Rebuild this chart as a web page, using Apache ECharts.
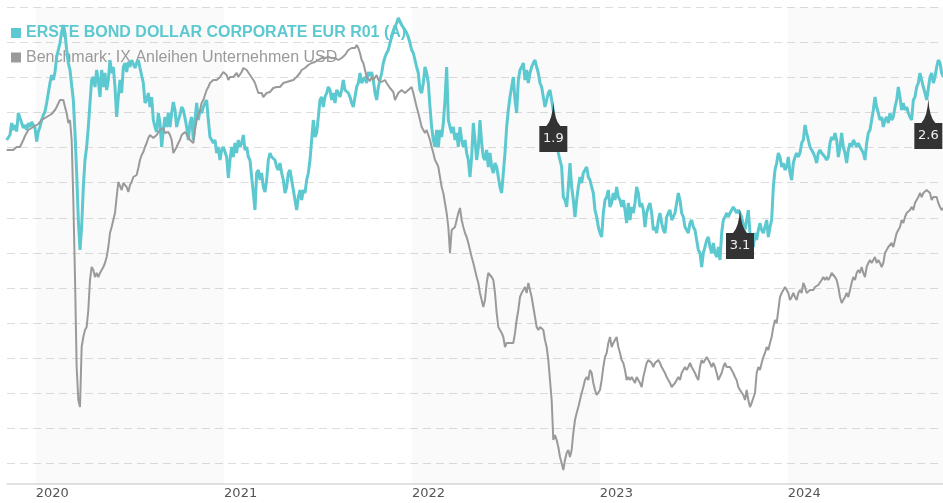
<!DOCTYPE html>
<html><head><meta charset="utf-8">
<script src="https://cdn.jsdelivr.net/npm/echarts@6/dist/echarts.min.js"></script>
<style>html,body{margin:0;padding:0;background:#fff}#c{width:943px;height:503px}</style>
</head><body><div id="c"></div>
<script>
const fundName = 'ERSTE BOND DOLLAR CORPORATE EUR R01 (A)';
const benchName = 'Benchmark: IX Anleihen Unternehmen USD';
const DAY = 864e5;
const firstDate = Date.UTC(2019, 10, 5, 14);
const stepDays = 3.238;
const axisStart = Date.UTC(2019, 10, 6, 6);
const axisEnd = Date.UTC(2024, 9, 28, 17);

const fund = [
102.0,102.4,103.0,105.4,104.0,105.0,103.7,107.4,106.4,105.4,
104.4,105.0,104.0,105.4,104.6,105.6,105.0,104.4,101.7,103.7,
104.6,106.0,107.0,107.7,109.4,111.4,113.4,115.0,114.0,115.6,
118.6,120.0,121.4,123.6,125.0,123.4,120.0,117.4,116.0,115.6,
110.0,103.4,95.4,86.0,80.0,84.6,92.6,98.0,100.6,104.6,
109.4,114.0,114.6,112.6,116.0,114.0,110.6,116.0,112.6,115.4,
112.0,114.0,118.0,115.4,116.6,112.6,106.6,110.6,114.0,111.4,
116.6,117.4,115.6,117.6,116.6,118.0,118.4,116.4,117.4,118.0,
116.4,116.6,113.4,109.4,110.0,111.4,108.6,110.6,106.0,104.6,
103.6,107.4,105.4,100.6,104.0,106.6,104.6,107.4,104.6,107.4,
109.6,108.0,104.6,106.0,107.0,108.6,108.0,106.4,104.6,102.0,
105.4,106.6,102.0,106.0,109.4,106.0,108.0,107.4,108.6,109.4,
110.0,106.0,102.6,102.0,101.4,102.0,99.4,100.6,98.0,100.0,
100.6,100.6,98.6,94.4,98.0,100.6,98.6,101.4,99.4,102.0,
100.6,101.4,103.0,100.0,100.6,98.6,98.0,94.6,91.4,88.0,
95.4,96.0,94.0,95.4,92.6,91.6,94.0,98.0,99.4,98.6,
99.0,98.0,96.6,96.0,97.4,95.4,94.0,91.4,92.6,95.4,
96.0,94.0,92.0,90.0,88.0,90.6,92.0,90.0,92.0,91.4,
94.0,95.4,98.0,102.0,106.0,102.6,103.4,106.6,110.0,110.6,
108.6,110.6,111.4,112.6,112.0,110.0,111.4,109.4,112.0,111.4,
110.6,112.0,114.0,112.0,111.6,111.4,110.6,109.4,108.6,110.6,
112.6,113.4,115.4,113.4,114.0,114.6,113.4,115.6,114.8,115.6,
114.0,111.4,110.0,112.6,114.0,115.4,117.4,118.6,119.4,120.0,
121.4,122.6,122.6,124.6,125.4,126.4,126.6,125.0,125.4,124.0,
123.4,122.6,121.4,120.0,119.4,118.0,116.6,115.4,112.0,111.4,
113.4,116.6,115.4,113.4,108.6,104.6,102.0,100.6,104.0,100.6,
104.0,102.6,105.4,110.0,116.6,106.0,104.6,103.4,104.6,102.0,
103.4,100.6,104.6,102.0,100.6,102.0,99.4,98.0,94.6,98.6,
105.4,102.0,98.0,100.6,106.0,101.4,98.6,98.0,100.0,96.6,
99.4,96.6,95.4,97.4,96.6,94.6,92.6,91.4,95.4,99.4,
104.6,108.0,110.6,112.6,114.6,110.0,107.4,114.0,116.0,116.6,
117.4,114.0,116.0,113.4,115.4,116.6,117.4,118.0,116.6,115.4,
113.4,112.6,110.6,108.6,110.0,111.4,112.0,110.0,109.6,105.6,
102.0,99.4,98.0,96.6,90.6,90.0,88.6,92.6,97.4,92.6,
90.0,86.6,90.0,92.6,94.6,93.4,95.4,96.0,96.6,94.6,
94.0,92.6,91.4,88.0,86.6,84.6,83.4,82.6,87.4,90.0,
90.6,92.0,88.6,89.4,91.4,90.0,92.6,90.6,90.0,88.6,
90.0,88.0,85.4,89.4,86.0,88.6,87.4,89.4,92.6,91.4,
88.6,89.4,88.0,84.6,87.4,88.6,89.4,87.4,84.0,84.6,
83.4,86.0,87.4,85.4,84.0,83.4,86.6,87.4,88.0,86.0,
86.6,87.4,89.4,91.4,90.0,87.4,86.6,84.6,84.6,83.4,
85.4,86.0,84.6,84.0,82.0,80.0,79.4,76.6,79.4,80.6,
82.0,82.6,80.6,79.4,81.4,79.4,78.6,80.6,78.0,83.4,
86.0,86.6,87.4,86.6,87.4,88.0,88.6,88.0,87.4,88.0,
88.2,86.6,85.0,84.0,86.0,88.0,83.4,82.0,80.6,83.4,
82.0,84.0,85.4,84.0,83.4,84.6,86.0,82.6,84.6,86.0,
92.6,96.0,97.4,99.4,98.6,96.6,97.4,96.0,96.6,98.6,
95.4,94.0,97.4,98.6,99.4,98.6,99.4,101.4,102.0,105.0,
103.4,102.0,100.6,100.0,99.4,98.6,97.4,99.4,100.0,99.4,
99.6,98.6,98.0,98.6,101.4,102.6,102.0,103.4,102.0,98.6,
100.6,103.4,100.6,99.4,97.4,100.0,101.4,100.6,102.0,101.4,
100.6,101.4,100.6,100.0,99.4,98.0,101.4,103.4,104.0,106.0,
108.0,110.6,108.6,107.4,106.0,106.6,104.6,106.0,106.6,105.4,
107.4,106.0,106.6,108.6,110.0,112.6,110.6,108.0,109.4,108.0,
108.6,107.4,106.6,106.0,110.0,110.6,112.6,113.4,115.4,114.0,
112.6,111.4,110.0,110.2,114.6,115.4,113.4,114.6,116.6,118.0,
117.4,115.4,114.6
];

const bench = [
100.0,99.6,100.0,100.0,100.0,100.2,100.6,100.6,100.6,100.4,
102.0,102.8,103.4,104.0,104.4,104.4,104.6,104.8,105.0,105.2,
105.6,106.0,106.4,106.4,106.6,106.8,107.0,107.2,107.4,108.0,
108.6,109.0,110.0,110.4,110.0,108.6,107.4,105.4,106.0,102.0,
90.0,74.6,56.6,50.0,48.6,60.6,62.6,64.0,64.6,68.0,
74.0,76.6,76.0,74.6,75.4,74.6,75.4,75.0,76.6,77.4,
78.6,80.6,83.4,84.6,86.0,87.4,90.6,93.6,93.4,92.0,
93.4,93.6,92.6,91.6,93.0,93.6,94.6,95.0,95.0,96.4,
98.0,99.0,99.6,100.6,101.4,102.4,103.0,103.4,102.4,102.6,
103.0,103.4,104.0,103.6,104.4,103.4,103.6,103.6,103.0,102.0,
99.4,100.0,100.6,101.4,102.0,103.0,103.4,103.6,103.4,102.6,
102.0,102.4,101.4,104.0,106.0,107.0,108.0,109.4,110.0,111.0,
112.0,112.6,113.4,113.6,114.0,113.6,114.0,114.4,114.6,115.0,
115.6,115.4,115.0,114.0,114.6,115.0,114.6,115.0,115.4,114.6,
115.0,115.6,116.4,116.6,116.0,115.6,115.0,114.6,114.0,113.4,
112.4,111.4,111.0,111.4,110.6,110.4,111.4,111.0,111.6,112.0,
112.4,112.2,112.6,112.8,112.6,113.0,113.4,113.4,113.6,113.4,
113.8,113.6,114.0,114.4,114.6,115.0,115.4,116.0,116.0,116.4,
116.6,117.0,117.4,117.4,117.6,117.6,118.0,118.0,118.2,118.4,
118.2,118.4,118.6,118.6,118.4,118.4,118.6,118.4,118.2,118.0,
118.0,118.4,118.6,119.0,119.4,120.0,120.0,120.4,120.6,120.4,
121.0,120.4,119.4,118.0,117.4,116.0,114.6,114.4,113.8,114.6,
114.0,114.4,115.0,114.0,114.4,113.6,113.4,114.0,113.4,113.0,
112.4,112.6,111.6,110.0,110.4,111.4,111.6,112.0,111.6,111.4,
111.6,112.0,112.4,112.6,111.4,110.0,108.6,107.4,106.0,104.6,
104.4,103.4,104.0,103.0,102.0,100.6,99.4,98.0,97.4,96.6,
94.6,92.6,91.4,89.4,87.4,84.6,79.4,84.0,84.0,84.6,
86.0,87.4,88.4,86.0,84.6,83.4,82.6,81.4,80.0,78.6,
77.4,76.0,74.6,73.4,71.4,70.0,68.6,70.0,73.4,75.4,
75.4,74.6,74.0,71.4,67.4,64.6,64.0,63.4,62.6,60.6,
61.4,61.6,61.4,61.0,61.4,63.4,66.0,68.0,70.6,71.4,
72.0,72.6,71.4,73.4,72.0,70.6,68.6,66.6,64.6,64.0,
64.6,65.0,64.0,62.0,60.6,58.0,54.0,50.0,42.0,43.0,
42.0,40.6,38.6,37.4,36.0,38.0,39.4,40.0,38.6,40.0,
43.4,46.0,47.4,48.6,50.0,51.4,52.6,54.0,54.6,54.0,
56.0,55.4,53.4,52.0,51.0,51.4,52.0,54.0,56.6,58.6,
59.4,61.4,62.6,60.6,61.4,62.0,62.6,60.6,59.4,58.0,
57.4,56.0,54.0,54.6,54.0,54.6,54.0,53.4,54.6,54.0,
53.4,52.6,54.6,56.0,57.4,58.0,58.4,57.4,56.6,57.4,
57.0,58.0,57.4,56.6,56.0,55.4,54.6,54.0,53.4,52.6,
52.4,53.4,54.0,54.6,54.0,55.4,56.0,56.6,56.0,56.6,
57.4,56.6,56.0,55.4,54.6,54.0,56.6,58.0,57.4,58.0,
58.6,58.0,57.4,56.6,57.4,56.6,55.4,54.0,54.0,55.4,
56.6,57.4,56.6,57.0,56.6,56.0,55.4,54.6,54.0,52.6,
52.0,52.0,51.0,50.0,52.0,50.0,48.6,49.4,49.4,51.4,
55.4,56.6,56.0,57.4,58.6,59.4,60.6,60.0,61.4,62.6,
64.6,66.0,65.4,68.0,70.6,71.4,72.0,72.6,72.0,71.4,
70.0,70.6,71.4,70.6,70.0,71.4,72.0,71.4,73.4,72.6,
71.4,71.4,72.0,71.6,72.0,72.6,72.6,73.0,73.4,74.0,
74.6,74.0,74.6,74.0,74.6,75.4,75.6,74.6,74.0,72.6,
70.6,69.4,70.0,70.6,71.4,70.6,72.0,73.4,74.6,74.0,
75.4,76.0,75.4,76.6,75.4,74.6,76.6,77.4,78.0,77.4,
78.0,78.6,77.4,78.0,77.4,76.6,77.4,79.4,80.0,80.6,
80.6,81.4,80.6,82.0,83.4,84.0,84.6,86.0,85.4,86.6,
87.4,87.4,88.0,88.6,88.0,89.4,90.0,90.6,91.4,90.6,
91.4,91.6,92.0,92.4,91.4,90.0,90.6,90.4,90.6,89.4,
88.6,88.0,88.4
];

const distIndex = [328, 440, 553];
const distLabels = ['1.9', '3.1', '2.6'];
const shadedRanges = [
  [Date.UTC(2020, 0, 1), Date.UTC(2021, 0, 1)],
  [Date.UTC(2022, 0, 1), Date.UTC(2023, 0, 1)],
  [Date.UTC(2024, 0, 1), axisEnd]
];

const dates = fund.map((_, i) => firstDate + i * stepDays * DAY);
const fundData = fund.map((v, i) => [dates[i], v]);
const benchData = bench.map((v, i) => [dates[i], v]);

const TEAL = '#5cc8cf';
const GREY = '#9a9a9a';

const chart = echarts.init(document.getElementById('c'), null, {renderer: 'canvas'});
chart.setOption({
  animation: false,
  useUTC: true,
  backgroundColor: '#ffffff',
  textStyle: {fontFamily: '"Liberation Sans", Arial, sans-serif'},
  grid: {left: 7, right: 0, top: 7, bottom: 19, containLabel: false},
  legend: {
    orient: 'vertical', left: 6, top: 20, itemGap: 8.5, padding: [5, 5, 5, 5],
    icon: 'rect', itemWidth: 10, itemHeight: 10, selectedMode: false, z: 2,
    data: [
      {name: fundName, itemStyle: {color: TEAL}, textStyle: {color: TEAL, fontWeight: 'bold', fontSize: 16}},
      {name: benchName, itemStyle: {color: GREY}, textStyle: {color: GREY, fontSize: 16}}
    ]
  },
  xAxis: {
    type: 'time', min: axisStart, max: axisEnd, splitNumber: 5, minInterval: 360 * DAY,
    axisLine: {show: true, onZero: false, lineStyle: {color: '#d8d8d8', width: 1.5}},
    axisTick: {show: false},
    splitLine: {show: false},
    axisLabel: {
      color: '#555', fontSize: 13, fontFamily: '"DejaVu Sans", Verdana, sans-serif', align: 'left', margin: 3,
      formatter: (v) => { const d = new Date(v); return (d.getUTCMonth() === 0 && d.getUTCDate() === 1) ? String(d.getUTCFullYear()) : ''; }
    }
  },
  yAxis: [
    {type: 'value', min: 33.2, max: 128.6, axisLine: {show: false}, axisTick: {show: false}, axisLabel: {show: false}, splitLine: {show: false}},
    {type: 'value', inverse: true, min: 0, max: 13.58, splitNumber: 14,
     axisLine: {show: false, onZero: false}, axisTick: {show: false}, axisLabel: {show: false},
     splitLine: {show: true, showMaxLine: false, lineStyle: {color: '#dddddd', type: [8, 5], width: 1}}}
  ],
  series: [
    {
      name: fundName, type: 'line', data: fundData, yAxisIndex: 0, showSymbol: false, z: 3,
      lineStyle: {color: TEAL, width: 3}, itemStyle: {color: TEAL},
      markArea: {silent: true, z: 1, itemStyle: {color: 'rgba(0,0,0,0.02)'},
        data: shadedRanges.map(r => [{xAxis: r[0]}, {xAxis: r[1]}])},
      markPoint: {
        silent: true, z: 5,
        symbol: 'path://M14,0 Q15,18 21,24 L28,24 L28,50 L0,50 L0,24 L7,24 Q13,18 14,0 Z',
        symbolSize: [28, 50], symbolOffset: [0, '50%'],
        itemStyle: {color: '#333333'},
        label: {show: true, formatter: (p) => p.name, color: '#f0f0f0', fontSize: 13, fontFamily: '"DejaVu Sans", Verdana, sans-serif', offset: [0, 12]},
        data: distIndex.map((k, n) => ({name: distLabels[n], coord: [dates[k], fund[k]]}))
      }
    },
    {
      name: benchName, type: 'line', data: benchData, yAxisIndex: 0, showSymbol: false, z: 3,
      lineStyle: {color: GREY, width: 2}, itemStyle: {color: GREY}
    }
  ]
});
</script></body></html>
